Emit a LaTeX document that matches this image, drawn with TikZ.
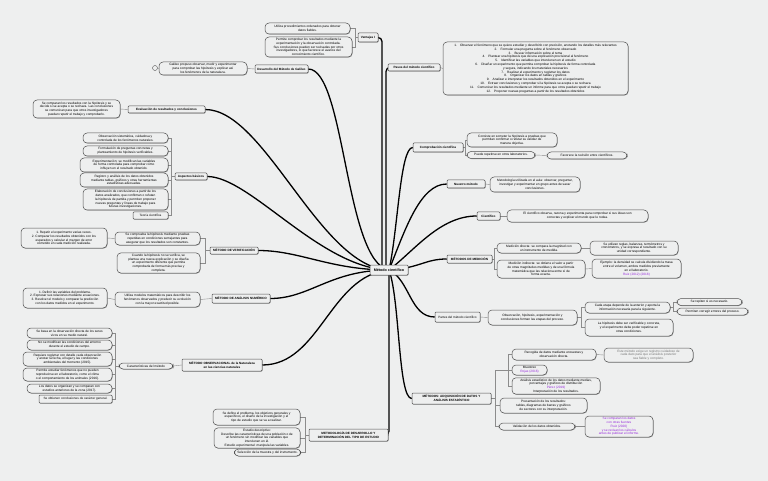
\documentclass[tikz,border=0pt]{standalone}
\usepackage{fontspec}
\setmainfont{Liberation Sans}
\usepackage{tikz}
\usetikzlibrary{shadows}
\definecolor{fondo}{RGB}{238,239,239}
\definecolor{borde}{RGB}{80,80,80}
\definecolor{morado}{RGB}{150,40,220}
\definecolor{grisclaro}{RGB}{120,120,120}
\pgfdeclarelayer{back}
\pgfsetlayers{back,main}

\begin{document}
\begin{tikzpicture}[x=1pt,y=-1pt,
  every node/.style={font=\fontsize{3.2}{3.8}\selectfont, align=center},
  sombra/.style={drop shadow={shadow xshift=.5pt, shadow yshift=-.6pt, opacity=.35, fill=black}},
  tema/.style n args={2}{draw=borde, line width=.5pt, fill=fondo, rounded corners=1pt, inner xsep=2pt, inner ysep=1pt,
    minimum width=#1, minimum height=#2, font=\fontsize{3.1}{3.8}\selectfont\bfseries, sombra},
  burbuja/.style n args={2}{draw=borde, line width=.5pt, fill=fondo, rounded corners=4pt, inner xsep=3pt, inner ysep=1pt,
    minimum width=#1, minimum height=#2, sombra},
  rama/.style={line width=1.3pt, black},
  enlace/.style={black!45, line width=.4pt}]
\useasboundingbox (0,0) rectangle (768,481);

\node[tema={38}{10}, font=\fontsize{3.7}{4.4}\selectfont\bfseries] (mc) at (389,270) {Método científico};

% izquierda y arriba
\node[tema={20}{9}] (ven) at (368,37.5) {Ventajas I};
\node[burbuja={85}{11}] (v1) at (307.5,28.5) {Utiliza procedimientos ordenados para obtener\\ datos fiables.};
\node[burbuja={87}{20}] (v2) at (308.5,47) {Permite comprobar los resultados mediante la\\ experimentación y la observación controlada.\\ Sus conclusiones pueden ser revisadas por otros\\ investigadores, lo que favorece el avance del\\ conocimiento científico.};

\node[tema={53}{8}] (des) at (281.5,69) {Desarrollo del Método de Galileo};
\node[burbuja={88}{13}] (d1) at (203,68.5) {Galileo propuso observar, medir y experimentar\\ para comprobar las hipótesis y explicar así\\ los fenómenos de la naturaleza.};
\node[circle, draw=borde, fill=fondo, line width=.4pt, inner sep=0pt, minimum size=5pt] (dic) at (155,68) {};

\node[tema={77}{7}] (evl) at (166.5,109.5) {Evaluación de resultados y conclusiones};
\node[burbuja={87}{18}] (e1) at (76.5,109) {Se comparan los resultados con la hipótesis y se\\ decide si se acepta o se rechaza. Las conclusiones\\ se comunican para que otros investigadores\\ puedan repetir el trabajo y comprobarlo.};

\node[tema={32}{7}] (asp) at (191,176.5) {Aspectos básicos};
\node[burbuja={85}{10}] (a1) at (125.5,138) {Observación sistemática, cuidadosa y\\ controlada de los fenómenos naturales.};
\node[burbuja={85}{10}] (a2) at (125.5,151) {Formulación de preguntas concretas y\\ planteamiento de hipótesis verificables.};
\node[burbuja={88}{14}] (a3) at (124,165) {Experimentación: se modifican las variables\\ de forma controlada para comprobar cómo\\ influyen en el resultado obtenido.};
\node[burbuja={88}{14}] (a4) at (124,180) {Registro y análisis de los datos obtenidos\\ mediante tablas, gráficos y otras herramientas\\ estadísticas adecuadas.};
\node[burbuja={85}{21}] (a5) at (125.5,199.5) {Elaboración de conclusiones a partir de los\\ datos analizados, que confirman o refutan\\ la hipótesis de partida y permiten proponer\\ nuevas preguntas y líneas de trabajo para\\ futuras investigaciones.};
\node[tema={35}{7}, font=\fontsize{3.1}{3.8}\selectfont] (a6) at (150.5,215.5) {Teoría científica};

\node[tema={48}{7}] (mve) at (234,250.5) {MÉTODO DE VERIFICACIÓN};
\node[burbuja={85}{13}] (m1) at (157.5,238.5) {Se comprueba la hipótesis mediante pruebas\\ repetidas en condiciones semejantes para\\ asegurar que los resultados son constantes.};
\node[burbuja={86}{20}] (m1a) at (64,238) {1.\ Repetir el experimento varias veces.\\ 2.\ Comparar los resultados obtenidos con los\\ esperados y calcular el margen de error\\ cometido en cada medición realizada.};
\node[burbuja={83}{20}] (m2) at (158.5,263) {Cuando la hipótesis no se verifica, se\\ plantea una nueva explicación y se diseña\\ un experimento diferente que permita\\ comprobarla de forma más precisa y\\ completa.};

\node[tema={58}{9}] (mdl) at (241,298.5) {MÉTODO DE ANÁLISIS NUMÉRICO};
\node[burbuja={85}{15}] (l1) at (157.5,299.5) {Utiliza modelos matemáticos para describir los\\ fenómenos observados y predecir su evolución\\ con la mayor exactitud posible.};
\node[burbuja={84}{20}] (l1a) at (65,298) {1.\ Definir las variables del problema.\\ 2.\ Expresar sus relaciones mediante ecuaciones.\\ 3.\ Resolver el modelo y comparar la predicción\\ con los datos medidos en el experimento.};

\node[tema={80}{12}] (mll) at (222,365) {MÉTODO OBSERVACIONAL de la Naturaleza\\ en las ciencias naturales};
\node[burbuja={54}{6}] (mll1) at (146,366) {Características del método};
\node[burbuja={85}{10}] (c1) at (69.5,333) {Se basa en la observación directa de los seres\\ vivos en su medio natural.};
\node[burbuja={85}{10}] (c2) at (69.5,345) {No se modifican las condiciones del entorno\\ durante el estudio de campo.};
\node[burbuja={89}{14}] (c3) at (67.5,359) {Requiere registrar con detalle cada observación\\ y anotar la fecha, el lugar y las condiciones\\ ambientales del momento (2015).};
\node[burbuja={89}{13}] (c4) at (67.5,374.5) {Permite estudiar fenómenos que no pueden\\ reproducirse en el laboratorio, como el clima\\ o el comportamiento de los animales (2016).};
\node[burbuja={85}{9}] (c5) at (69.5,388.5) {Los datos se organizan y se comparan con\\ estudios anteriores de la zona (2017).};
\node[tema={73}{8}, font=\fontsize{3.1}{3.8}\selectfont] (c6) at (75.5,399) {Se obtienen conclusiones de carácter general.};

\node[tema={79}{12}] (met) at (348.5,435) {METODOLOGÍA DE DESARROLLO Y\\ DETERMINACIÓN DEL TIPO DE ESTUDIO};
\node[burbuja={87}{16}] (t1) at (256.5,417) {Se define el problema, los objetivos generales y\\ específicos, el diseño de la investigación y el\\ tipo de estudio que se va a realizar.};
\node[burbuja={86}{20}] (t2) at (257,438) {Estudio descriptivo:\\ Describe las características de una población o de\\ un fenómeno sin modificar las variables que\\ intervienen en él.\\ Estudio experimental: manipula las variables.};
\node[burbuja={65}{7}] (t3) at (267.5,452.5) {Selección de la muestra y del instrumento.};

% derecha
\node[tema={52}{7}] (mue) at (414,67.5) {Pasos del método científico};
\node[burbuja={185}{53}] (u1) at (535.5,68.5) {1.\quad Observar el fenómeno que se quiere estudiar y describirlo con precisión, anotando los detalles más relevantes\\
 2.\quad Formular una pregunta sobre el fenómeno observado\\
 3.\quad Buscar información sobre el tema\\
 4.\quad Plantear una hipótesis que dé una explicación provisional al fenómeno\\
 5.\quad Identificar las variables que intervienen en el estudio\\
 6.\quad Diseñar un experimento que permita comprobar la hipótesis de forma controlada\\
 y segura, indicando los materiales necesarios\\
 7.\quad Realizar el experimento y registrar los datos\\
 8.\quad Organizar los datos en tablas y gráficos\\
 9.\quad Analizar e interpretar los resultados obtenidos en el experimento\\
 10.\quad Extraer conclusiones y comprobar si la hipótesis se acepta o se rechaza\\
 11.\quad Comunicar los resultados mediante un informe para que otros puedan repetir el trabajo\\
 12.\quad Proponer nuevas preguntas a partir de los resultados obtenidos};

\node[tema={50}{9}] (com) at (438,147.5) {Comprobación científica};
\node[burbuja={90}{14}] (o1) at (512,140) {Consiste en someter la hipótesis a pruebas que\\ permitan confirmar o refutar su validez de\\ manera objetiva.};
\node[burbuja={68}{7}] (o2) at (501,155) {Puede repetirse en otros laboratorios.};
\node[burbuja={80}{7}] (o2a) at (587,155.5) {Favorece la revisión entre científicos.};

\node[tema={38}{8}] (nue) at (466,184) {Nuestro método};
\node[burbuja={90}{15}] (n1) at (535,184.5) {Metodología utilizada en el aula: observar, preguntar,\\ investigar y experimentar en grupo antes de sacar\\ conclusiones.};

\node[tema={23}{8}] (cie) at (488.5,216) {Científico};
\node[burbuja={141}{12}] (s1) at (577.5,216) {El científico observa, razona y experimenta para comprobar si sus ideas son\\ correctas y explicar el mundo que le rodea.};

\node[tema={45}{8}] (mdp) at (469.5,259) {MÉTODOS DE MEDICIÓN};
\node[burbuja={84}{10}] (p1) at (539,248) {Medición directa: se compara la magnitud con\\ un instrumento de medida.};
\node[burbuja={88}{14}] (p1a) at (634,248) {Se utilizan reglas, balanzas, termómetros y\\ cronómetros, y se expresa el resultado con su\\ unidad correspondiente.};
\node[burbuja={88}{18}] (p2) at (541,269) {Medición indirecta: se obtiene el valor a partir\\ de otras magnitudes medidas y de una fórmula\\ matemática que las relaciona entre sí de\\ forma exacta.};
\node[burbuja={89}{19}] (p2a) at (636.5,268.5) {Ejemplo: la densidad se calcula dividiendo la masa\\ entre el volumen, ambos medidos previamente\\ en el laboratorio.\\ \textcolor{morado}{Ruiz (2012) (2018)}};

\node[tema={45}{10}, font=\fontsize{3.1}{3.8}\selectfont] (par) at (457.5,317) {Partes del método científico};
\node[burbuja={89}{15}] (r1) at (532.5,317.5) {Observación, hipótesis, experimentación y\\ conclusiones forman las etapas del proceso.};
\node[burbuja={85}{11}] (r1a) at (627.5,307.5) {Cada etapa depende de la anterior y aporta la\\ información necesaria para la siguiente.};
\node[burbuja={65}{7}] (r1a1) at (709.5,302) {Se repiten si es necesario.};
\node[burbuja={71}{7}] (r1a2) at (712.5,311.5) {Permiten corregir errores del proceso.};
\node[burbuja={88}{17}] (r1b) at (629,327.5) {La hipótesis debe ser verificable y concreta,\\ y el experimento debe poder repetirse en\\ otras condiciones.};

\node[tema={79}{11}] (mlr) at (451.5,398.5) {MÉTODOS: ADQUISICIÓN DE DATOS Y\\ ANÁLISIS ESTADÍSTICO};
\node[burbuja={84}{11}] (k1) at (554,354.5) {Recogida de datos mediante encuestas y\\ observación directa.};
\node[burbuja={89}{14}, text=grisclaro] (k1a) at (648.5,355) {Este método exige un registro cuidadoso de\\ cada dato para que el análisis posterior\\ sea fiable y completo.};
\node[burbuja={35}{10}] (k2) at (529.5,370) {Muestreo\\ \textcolor{morado}{Rojas (2016)}};
\node[burbuja={88}{16}] (k3) at (556,386) {Análisis estadístico de los datos mediante medias,\\ porcentajes y gráficos de distribución\\ \textcolor{morado}{Pérez (2019)}\\ Interpretación de los resultados.};
\node[burbuja={87}{15}] (k4) at (543.5,405.5) {Presentación de los resultados:\\ tablas, diagramas de barras y gráficos\\ de sectores con su interpretación.};
\node[burbuja={76}{7}] (k5) at (537,426.5) {Validación de los datos obtenidos.};
\node[burbuja={68}{21}, text=morado] (k5a) at (619,426.5) {Se comparan los datos\\ con otras fuentes\\ Ruiz (2020)\\ y se revisan los cálculos\\ antes de publicar el informe.};

\coordinate (venk) at (355,37.5);
\coordinate (aspk) at (171,176.5);
\coordinate (mvek) at (205,250.5);
\coordinate (mllk) at (115,366);
\coordinate (metk) at (305,435);
\coordinate (comk) at (465,147.5);
\coordinate (mdpk) at (494.5,259);
\coordinate (r1k) at (581,317.5);
\coordinate (r1ak) at (673,307.5);
\coordinate (mlrk) at (495,398.5);
\coordinate (mlrj) at (508,370);

\begin{pgfonlayer}{back}
\fill[fondo] (0,0) rectangle (768,481);
% ramas principales
\draw[rama, rounded corners=4pt] (ven.east) -| ([xshift=-7pt]mc.center);
\draw[rama, rounded corners=4pt] (mue.west) -| ([xshift=-3pt]mc.center);
\draw[rama, rounded corners=4pt] (met.east) -| (mc.center);
\draw[rama] (mc.center) .. controls (345,262) and (345,69) .. (des.east);
\draw[rama] (mc.center) .. controls (320,268) and (265,109.5) .. (evl.east);
\draw[rama] (mc.center) .. controls (320,268) and (250,176.5) .. (asp.east);
\draw[rama] (mc.center) .. controls (330,270) and (300,250.5) .. (mve.east);
\draw[rama] (mc.center) .. controls (330,270) and (310,298.5) .. (mdl.east);
\draw[rama] (mc.center) .. controls (330,275) and (320,365) .. (mll.east);
\draw[rama] (mc.center) .. controls (398,230) and (400,147.5) .. (com.west);
\draw[rama] (mc.center) .. controls (405,230) and (420,184) .. (nue.west);
\draw[rama] (mc.center) .. controls (415,250) and (440,216) .. (cie.west);
\draw[rama] (mc.center) .. controls (420,268) and (425,259) .. (mdp.west);
\draw[rama] (mc.center) .. controls (410,280) and (410,317) .. (par.west);
\draw[rama] (mc.center) .. controls (400,300) and (398,398.5) .. (mlr.west);
% enlaces
\draw[enlace] (ven.west) -- (venk) |- (v1.east);
\draw[enlace] (venk) |- (v2.east);
\draw[enlace] (des.west) -- (d1.east);
\draw[enlace] (d1.west) -- (dic.east);
\draw[enlace] (evl.west) -- (e1.east);
\draw[enlace] (asp.west) -- (aspk) |- (a1.east);
\foreach \n in {a2,a3,a4,a5,a6} \draw[enlace] (aspk) |- (\n.east);
\draw[enlace] (mve.west) -- (mvek) |- (m1.east);
\draw[enlace] (mvek) |- (m2.east);
\draw[enlace] (m1.west) -- (m1a.east);
\draw[enlace] (mdl.west) -- (l1.east);
\draw[enlace] (l1.west) -- (l1a.east);
\draw[enlace] (mll.west) -- (mll1.east);
\draw[enlace] (mll1.west) -- (mllk) |- (c1.east);
\foreach \n in {c2,c3,c4,c5,c6} \draw[enlace] (mllk) |- (\n.east);
\draw[enlace] (met.west) -- (metk) |- (t1.east);
\foreach \n in {t2,t3} \draw[enlace] (metk) |- (\n.east);
\draw[enlace] (mue.east) -- (u1.west);
\draw[enlace] (com.east) -- (comk) |- (o1.west);
\draw[enlace] (comk) |- (o2.west);
\draw[enlace] (o2.east) -- (o2a.west);
\draw[enlace] (nue.east) -- (n1.west);
\draw[enlace] (cie.east) -- (s1.west);
\draw[enlace] (mdp.east) -- (mdpk) |- (p1.west);
\draw[enlace] (mdpk) |- (p2.west);
\draw[enlace] (p1.east) -- (p1a.west);
\draw[enlace] (p2.east) -- (p2a.west);
\draw[enlace] (par.east) -- (r1.west);
\draw[enlace] (r1.east) -- (r1k) |- (r1a.west);
\draw[enlace] (r1k) |- (r1b.west);
\draw[enlace] (r1a.east) -- (r1ak) |- (r1a1.west);
\draw[enlace] (r1ak) |- (r1a2.west);
\draw[enlace] (mlr.east) -- (mlrk) |- (k4.west);
\draw[enlace] (mlrk) |- (k5.west);
\draw[enlace] (mlrk) |- (mlrj);
\foreach \n in {k1,k2,k3} \draw[enlace] (mlrj) |- (\n.west);
\draw[enlace] (k1.east) -- (k1a.west);
\draw[enlace] (k5.east) -- (k5a.west);
\end{pgfonlayer}
\end{tikzpicture}
\end{document}
